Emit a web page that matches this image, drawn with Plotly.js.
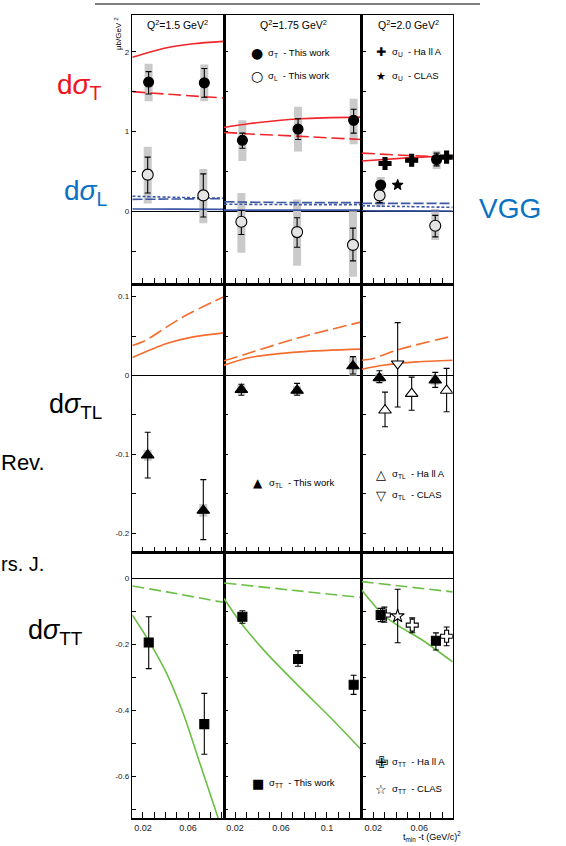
<!DOCTYPE html>
<html>
<head>
<meta charset="utf-8">
<script src="https://cdn.plot.ly/plotly-3.0.1.min.js"></script>
<style>html,body{margin:0;padding:0;background:#fff}</style>
</head>
<body>
<div id="chart" style="width:566px;height:846px"></div>
<script>
// ---------- axes: one column per Q² bin, one row per cross-section ----------
const q2Labels = ['Q<sup>2</sup>=1.5 GeV<sup>2</sup>', 'Q<sup>2</sup>=1.75 GeV<sup>2</sup>', 'Q<sup>2</sup>=2.0 GeV<sup>2</sup>'];
const tRanges = [[0.0105, 0.092], [0.0104, 0.1302], [0.0099, 0.0891]];
const tTickVals = [[0.02, 0.06], [0.02, 0.06, 0.1], [0.02, 0.06]];
const tTickText = [['0.02', '0.06'], ['0.02', '0.06', '0.1'], ['0.02', '0.06']];
const yRanges = [[-0.91, 2.46], [-0.2246, 0.116], [-0.726, 0.0776]];
const yTickVals = [[0, 1, 2], [-0.2, -0.1, 0, 0.1], [-0.6, -0.4, -0.2, 0]];
const yTickText = [['0', '1', '2'], ['-0.2', '-0.1', '0', '0.1'], ['-0.6', '-0.4', '-0.2', '0']];
const yMinorStep = [0.5, 0.05, 0.1];

// ---------- VGG model curves (A = solid, B = dashed) ----------
// dσT
const vggT15A_t = [0.0105, 0.0411, 0.0647, 0.0914], vggT15A = [1.93, 2.05, 2.10, 2.13];
const vggT15B_t = [0.0105, 0.05, 0.0914],           vggT15B = [1.50, 1.46, 1.42];
const vggT175A_t = [0.0104, 0.033, 0.0765, 0.1302], vggT175A = [1.05, 1.10, 1.16, 1.18];
const vggT175B_t = [0.0104, 0.033, 0.0765, 0.1302], vggT175B = [0.99, 0.97, 0.94, 0.90];
const vggT20A_t = [0.0099, 0.05, 0.0891],           vggT20A = [0.63, 0.67, 0.70];
const vggT20B_t = [0.0099, 0.05, 0.0891],           vggT20B = [0.73, 0.70, 0.68];
// dσL (A = solid, B = dashed, C = dotted)
const vggL15_t = [0.0105, 0.05, 0.092];
const vggL15A = [0.03, 0.028, 0.025], vggL15B = [0.15, 0.155, 0.16], vggL15C = [0.19, 0.175, 0.165];
const vggL175_t = [0.0104, 0.07, 0.1302];
const vggL175A = [0.015, 0.015, 0.015], vggL175B = [0.12, 0.11, 0.11], vggL175C = [0.09, 0.085, 0.085];
const vggL20_t = [0.0099, 0.05, 0.0891];
const vggL20A = [0.008, 0.006, 0.005], vggL20B = [0.10, 0.10, 0.10], vggL20C = [0.07, 0.06, 0.05];
// dσTL
const vggTL15A_t = [0.0105, 0.0411, 0.0647, 0.092],  vggTL15A = [0.0228, 0.0406, 0.049, 0.054];
const vggTL15B_t = [0.0105, 0.0203, 0.0558, 0.092],  vggTL15B = [0.038, 0.043, 0.0745, 0.1];
const vggTL175A_t = [0.0104, 0.033, 0.0765, 0.1302], vggTL175A = [0.0131, 0.0228, 0.030, 0.0334];
const vggTL175B_t = [0.0104, 0.033, 0.0765, 0.1302], vggTL175B = [0.0186, 0.0288, 0.0483, 0.068];
const vggTL20A_t = [0.0099, 0.0287, 0.0577, 0.0891], vggTL20A = [0.008, 0.0131, 0.0173, 0.0194];
const vggTL20B_t = [0.0099, 0.02, 0.0432, 0.0891],   vggTL20B = [0.0194, 0.0216, 0.0334, 0.050];
// dσTT
const vggTT15A_t = [0.0105, 0.0247, 0.0411, 0.0558, 0.0707, 0.087, 0.092];
const vggTT15A = [-0.111, -0.187, -0.288, -0.409, -0.561, -0.727, -0.78];
const vggTT15B_t = [0.0105, 0.0411, 0.092],          vggTT15B = [-0.023, -0.041, -0.073];
const vggTT175A_t = [0.0104, 0.0243, 0.0476, 0.0765, 0.1055, 0.1302];
const vggTT175A = [-0.061, -0.131, -0.227, -0.33, -0.43, -0.52];
const vggTT175B_t = [0.0104, 0.07, 0.1302],          vggTT175B = [-0.014, -0.036, -0.058];
const vggTT20A_t = [0.0099, 0.0287, 0.0432, 0.0606, 0.0891];
const vggTT20A = [-0.035, -0.111, -0.147, -0.182, -0.253];
const vggTT20B_t = [0.0099, 0.0891],                 vggTT20B = [-0.010, -0.041];

// ---------- measurements: this work ----------
// Q² = 1.5
const sigT15_t = [0.025, 0.0745], sigT15 = [1.62, 1.61];
const sigT15_up = [0.13, 0.18], sigT15_dn = [0.15, 0.18], sigT15_sysUp = [0.23, 0.23], sigT15_sysDn = [0.24, 0.23];
const sigL15_t = [0.0242, 0.0736], sigL15 = [0.46, 0.20];
const sigL15_up = [0.22, 0.27], sigL15_dn = [0.23, 0.27], sigL15_sysUp = [0.35, 0.33], sigL15_sysDn = [0.36, 0.35];
const sigTL15_t = [0.0242, 0.0736], sigTL15 = [-0.101, -0.171];
const sigTL15_up = [0.029, 0.039], sigTL15_dn = [0.029, 0.037], sigTL15_sys = [0.007, 0.008];
const sigTT15_t = [0.0251, 0.0745], sigTT15 = [-0.194, -0.441];
const sigTT15_up = [0.078, 0.093], sigTT15_dn = [0.079, 0.091], sigTT15_sys = [0.012, 0.012];
// Q² = 1.75
const sigT175_t = [0.0264, 0.0748, 0.1232], sigT175 = [0.89, 1.03, 1.14];
const sigT175_up = [0.09, 0.13, 0.14], sigT175_dn = [0.10, 0.13, 0.16];
const sigT175_sysUp = [0.25, 0.28, 0.27], sigT175_sysDn = [0.26, 0.28, 0.30];
const sigL175_t = [0.0255, 0.074, 0.1226], sigL175 = [-0.13, -0.26, -0.42];
const sigL175_up = [0.14, 0.18, 0.21], sigL175_dn = [0.16, 0.19, 0.20];
const sigL175_sysUp = [0.36, 0.41, 0.42], sigL175_sysDn = [0.39, 0.42, 0.40];
const sigTL175_t = [0.0255, 0.074, 0.1226], sigTL175 = [-0.018, -0.019, 0.012];
const sigTL175_up = [0.007, 0.009, 0.012], sigTL175_dn = [0.007, 0.006, 0.010], sigTL175_sys = [0.006, 0.006, 0.012];
const sigTT175_t = [0.0264, 0.0748, 0.1232], sigTT175 = [-0.116, -0.244, -0.322];
const sigTT175_up = [0.018, 0.025, 0.029], sigTT175_dn = [0.020, 0.022, 0.029], sigTT175_sys = [0.01, 0.01, 0.01];
// Q² = 2.0
const sigT20_t = [0.0264, 0.0751], sigT20 = [0.33, 0.65];
const sigT20_up = [0.03, 0.08], sigT20_dn = [0.03, 0.08], sigT20_sysUp = [0.10, 0.11], sigT20_sysDn = [0.08, 0.12];
const sigL20_t = [0.0255, 0.0739], sigL20 = [0.20, -0.18];
const sigL20_up = [0.06, 0.13], sigL20_dn = [0.09, 0.14], sigL20_sysUp = [0.10, 0.21], sigL20_sysDn = [0.15, 0.18];
const sigTL20_t = [0.0253, 0.0739], sigTL20 = [-0.003, -0.006];
const sigTL20_up = [0.009, 0.010], sigTL20_dn = [0.006, 0.009], sigTL20_sys = [0.006, 0.006];
const sigTT20_t = [0.0264, 0.0745], sigTT20 = [-0.111, -0.189];
const sigTT20_up = [0.02, 0.024], sigTT20_dn = [0.02, 0.028], sigTT20_sys = [0.01, 0.01];

// ---------- other experiments at Q² = 2.0 ----------
const sigU_HallA_t = [0.0302, 0.0534, 0.0838], sigU_HallA = [0.60, 0.64, 0.68];
const sigU_CLAS_t = [0.0412], sigU_CLAS = [0.33], sigU_CLAS_err = [0.02];
const sigTL_HallA_t = [0.0302, 0.0534, 0.0838], sigTL_HallA = [-0.044, -0.023, -0.019];
const sigTL_HallA_up = [0.023, 0.021, 0.028], sigTL_HallA_dn = [0.021, 0.021, 0.027];
const sigTL_CLAS_t = [0.0412], sigTL_CLAS = [0.015], sigTL_CLAS_up = [0.052], sigTL_CLAS_dn = [0.055];
const sigTT_HallA_t = [0.0296, 0.0539, 0.0838], sigTT_HallA = [-0.111, -0.1415, -0.175];
const sigTT_HallA_up = [0.024, 0.022, 0.028], sigTT_HallA_dn = [0.022, 0.023, 0.029];
const sigTT_CLAS_t = [0.0412], sigTT_CLAS = [-0.114], sigTT_CLAS_up = [0.081], sigTT_CLAS_dn = [0.081];

// ---------- page geometry (pixels) ----------
const W = 566, H = 846;
const colPx = [[132.3, 224], [224, 361.7], [361.7, 452.7]];
const rowPx = [[15, 284], [284, 552.7], [552.7, 818.3]];
const px = v => v / W;
const py = v => 1 - v / H;

const RED = '#f0262a', BLUE = '#3d57a6', ORANGE = '#f46c2e', GREEN = '#6cbf45', SYS = '#cacaca';
const FONT = 'Liberation Sans, Arial, sans-serif';

function sfx(r, c) { const k = r * 3 + c + 1; return k === 1 ? '' : String(k); }

const traces = [];

function curve(r, c, t, y, color, dash) {
  const s = sfx(r, c);
  traces.push({
    type: 'scatter', mode: 'lines', x: t, y: y, xaxis: 'x' + s, yaxis: 'y' + s,
    line: {color: color, width: 1.6, dash: dash || 'solid', shape: 'spline', smoothing: 0.8},
    hoverinfo: 'skip', showlegend: false
  });
}

function sysBand(r, c, t, y, up, dn) {
  const s = sfx(r, c);
  traces.push({
    type: 'scatter', mode: 'markers', x: t, y: y, xaxis: 'x' + s, yaxis: 'y' + s,
    marker: {size: 1, color: 'rgba(0,0,0,0)'},
    error_y: {type: 'data', symmetric: false, array: up, arrayminus: dn || up,
              color: SYS, thickness: 8, width: 0},
    hoverinfo: 'skip', showlegend: false
  });
}

function points(r, c, t, y, up, dn, symbol, size, fill) {
  const s = sfx(r, c);
  const tr = {
    type: 'scatter', mode: 'markers', x: t, y: y, xaxis: 'x' + s, yaxis: 'y' + s,
    marker: {symbol: symbol, size: size, color: fill, line: {color: '#000', width: 1.1}},
    hoverinfo: 'skip', showlegend: false
  };
  if (up) {
    tr.error_y = {type: 'data', symmetric: false, array: up, arrayminus: dn || up,
                  color: '#000', thickness: 1.1, width: 3};
  }
  traces.push(tr);
}

// ---- row 1: dσT, dσL ----
sysBand(0, 0, sigT15_t, sigT15, sigT15_sysUp, sigT15_sysDn);
sysBand(0, 0, sigL15_t, sigL15, sigL15_sysUp, sigL15_sysDn);
sysBand(0, 1, sigT175_t, sigT175, sigT175_sysUp, sigT175_sysDn);
sysBand(0, 1, sigL175_t, sigL175, sigL175_sysUp, sigL175_sysDn);
sysBand(0, 2, sigT20_t, sigT20, sigT20_sysUp, sigT20_sysDn);
sysBand(0, 2, sigL20_t, sigL20, sigL20_sysUp, sigL20_sysDn);

curve(0, 0, vggT15A_t, vggT15A, RED);
curve(0, 0, vggT15B_t, vggT15B, RED, '13px,5px');
curve(0, 1, vggT175A_t, vggT175A, RED);
curve(0, 1, vggT175B_t, vggT175B, RED, '13px,5px');
curve(0, 2, vggT20A_t, vggT20A, RED);
curve(0, 2, vggT20B_t, vggT20B, RED, '13px,5px');
curve(0, 0, vggL15_t, vggL15A, BLUE);
curve(0, 0, vggL15_t, vggL15B, BLUE, '10px,3px');
curve(0, 0, vggL15_t, vggL15C, BLUE, '3px,2px');
curve(0, 1, vggL175_t, vggL175A, BLUE);
curve(0, 1, vggL175_t, vggL175B, BLUE, '10px,3px');
curve(0, 1, vggL175_t, vggL175C, BLUE, '3px,2px');
curve(0, 2, vggL20_t, vggL20A, BLUE);
curve(0, 2, vggL20_t, vggL20B, BLUE, '10px,3px');
curve(0, 2, vggL20_t, vggL20C, BLUE, '3px,2px');

points(0, 0, sigT15_t, sigT15, sigT15_up, sigT15_dn, 'circle', 10, '#000');
points(0, 0, sigL15_t, sigL15, sigL15_up, sigL15_dn, 'circle', 11, '#e4e4e4');
points(0, 1, sigT175_t, sigT175, sigT175_up, sigT175_dn, 'circle', 10, '#000');
points(0, 1, sigL175_t, sigL175, sigL175_up, sigL175_dn, 'circle', 11, '#e4e4e4');
points(0, 2, sigL20_t, sigL20, sigL20_up, sigL20_dn, 'circle', 11, '#e4e4e4');
points(0, 2, sigT20_t, sigT20, sigT20_up, sigT20_dn, 'circle', 10, '#000');
points(0, 2, sigU_HallA_t, sigU_HallA, null, null, 'cross', 10, '#000');
points(0, 2, sigU_CLAS_t, sigU_CLAS, sigU_CLAS_err, sigU_CLAS_err, 'star', 8, '#000');

// ---- row 2: dσTL ----
sysBand(1, 0, sigTL15_t, sigTL15, sigTL15_sys);
sysBand(1, 1, sigTL175_t, sigTL175, sigTL175_sys);
sysBand(1, 2, sigTL20_t, sigTL20, sigTL20_sys);
curve(1, 0, vggTL15A_t, vggTL15A, ORANGE);
curve(1, 0, vggTL15B_t, vggTL15B, ORANGE, '14px,5px');
curve(1, 1, vggTL175A_t, vggTL175A, ORANGE);
curve(1, 1, vggTL175B_t, vggTL175B, ORANGE, '14px,5px');
curve(1, 2, vggTL20A_t, vggTL20A, ORANGE);
curve(1, 2, vggTL20B_t, vggTL20B, ORANGE, '14px,5px');
points(1, 0, sigTL15_t, sigTL15, sigTL15_up, sigTL15_dn, 'triangle-up', 11, '#000');
points(1, 1, sigTL175_t, sigTL175, sigTL175_up, sigTL175_dn, 'triangle-up', 11, '#000');
points(1, 2, sigTL20_t, sigTL20, sigTL20_up, sigTL20_dn, 'triangle-up', 11, '#000');
points(1, 2, sigTL_HallA_t, sigTL_HallA, sigTL_HallA_up, sigTL_HallA_dn, 'triangle-up', 11, '#fff');
points(1, 2, sigTL_CLAS_t, sigTL_CLAS, sigTL_CLAS_up, sigTL_CLAS_dn, 'triangle-down', 11, '#fff');

// ---- row 3: dσTT ----
sysBand(2, 0, sigTT15_t, sigTT15, sigTT15_sys);
sysBand(2, 1, sigTT175_t, sigTT175, sigTT175_sys);
sysBand(2, 2, sigTT20_t, sigTT20, sigTT20_sys);
curve(2, 0, vggTT15A_t, vggTT15A, GREEN);
curve(2, 0, vggTT15B_t, vggTT15B, GREEN, '12px,5px');
curve(2, 1, vggTT175A_t, vggTT175A, GREEN);
curve(2, 1, vggTT175B_t, vggTT175B, GREEN, '12px,5px');
curve(2, 2, vggTT20A_t, vggTT20A, GREEN);
curve(2, 2, vggTT20B_t, vggTT20B, GREEN, '12px,5px');
points(2, 0, sigTT15_t, sigTT15, sigTT15_up, sigTT15_dn, 'square', 9, '#000');
points(2, 1, sigTT175_t, sigTT175, sigTT175_up, sigTT175_dn, 'square', 9, '#000');
points(2, 2, sigTT_HallA_t, sigTT_HallA, sigTT_HallA_up, sigTT_HallA_dn, 'cross', 10, '#fff');
points(2, 2, sigTT_CLAS_t, sigTT_CLAS, sigTT_CLAS_up, sigTT_CLAS_dn, 'star', 10, '#fff');
points(2, 2, sigTT20_t, sigTT20, sigTT20_up, sigTT20_dn, 'square', 9, '#000');

// ---------- layout ----------
const layout = {
  width: W, height: H,
  margin: {l: 0, r: 0, t: 0, b: 0},
  paper_bgcolor: '#fff', plot_bgcolor: '#fff',
  showlegend: false,
  font: {family: FONT, color: '#000', size: 9},
  annotations: [], shapes: []
};

for (let r = 0; r < 3; r++) {
  for (let c = 0; c < 3; c++) {
    const s = sfx(r, c);
    layout['xaxis' + s] = {
      domain: [px(colPx[c][0]), px(colPx[c][1])], range: tRanges[c], anchor: 'y' + s,
      showline: true, mirror: true, linecolor: '#000', linewidth: 1.5,
      showgrid: false, zeroline: false,
      tickmode: 'array', tickvals: tTickVals[c], ticktext: tTickText[c],
      ticks: 'inside', ticklen: 6, tickwidth: 1, tickcolor: '#000',
      minor: {tickmode: 'linear', tick0: 0, dtick: 0.01, ticks: 'inside', ticklen: 6, tickwidth: 1, tickcolor: '#000'},
      showticklabels: r === 2, tickfont: {family: FONT, size: 9, color: '#222'}
    };
    layout['yaxis' + s] = {
      domain: [py(rowPx[r][1]), py(rowPx[r][0])], range: yRanges[r], anchor: 'x' + s,
      showline: true, mirror: true, linecolor: '#000', linewidth: 1.5,
      showgrid: false, zeroline: true, zerolinecolor: '#000', zerolinewidth: 1,
      tickmode: 'array', tickvals: yTickVals[r], ticktext: yTickText[r],
      ticks: 'inside', ticklen: 4, tickwidth: 1, tickcolor: '#000',
      minor: {tickmode: 'linear', tick0: 0, dtick: yMinorStep[r], ticks: 'inside', ticklen: 4, tickwidth: 1, tickcolor: '#000'},
      showticklabels: c === 0, tickfont: {family: FONT, size: 8, color: '#222'}
    };
  }
}

function note(x, y, text, size, color, extra) {
  layout.annotations.push(Object.assign({
    xref: 'paper', yref: 'paper', x: px(x), y: py(y), text: text, showarrow: false,
    xanchor: 'center', yanchor: 'middle',
    font: {family: FONT, size: size, color: color || '#000'}
  }, extra || {}));
}

// Q² bin titles
const titleCentres = [177, 293, 408];
q2Labels.forEach((t, i) => note(titleCentres[i], 24, t, 10.5));

// in-panel keys
const keyFont = 'DejaVu Sans, sans-serif';
function key(x, y, glyph, gsize, text) {
  layout.annotations.push({xref: 'paper', yref: 'paper', x: px(x), y: py(y), text: glyph,
    showarrow: false, xanchor: 'center', yanchor: 'middle', font: {family: keyFont, size: gsize, color: '#000'}});
  note(x + 9, y, text, 9.5, '#000', {xanchor: 'left'});
}
key(257, 53, '●', 14, 'σ<sub>T</sub>  - This work');
key(257, 76, '○', 14, 'σ<sub>L</sub>  - This work');
key(381, 52, '✚', 12, 'σ<sub>U</sub>  - Ha ll A');
key(381, 76, '★', 11, 'σ<sub>U</sub>  - CLAS');
key(258, 483, '▲', 12, 'σ<sub>TL</sub>  - This work');
key(381, 474, '△', 13, 'σ<sub>TL</sub>  - Ha ll A');
key(381, 495, '▽', 13, 'σ<sub>TL</sub>  - CLAS');
key(258, 783, '■', 13, 'σ<sub>TT</sub>  - This work');
key(381, 762, '✙', 16, 'σ<sub>TT</sub>  - Ha ll A');
key(381, 789, '☆', 13, 'σ<sub>TT</sub>  - CLAS');

// axis titles
note(118, 34, 'μb/GeV <sup>2</sup>', 8, '#000', {textangle: -90});
note(432, 836, 't<sub>min</sub> -t (GeV/c)<sup>2</sup>', 9);

// side labels
note(79, 86, 'd<i>σ</i><sub>T</sub>', 28, '#f0141e');
note(85, 193, 'd<i>σ</i><sub>L</sub>', 28, '#0a72c4');
note(510, 208, 'VGG', 28, '#0a72c4');
note(75, 406, 'd<i>σ</i><sub>TL</sub>', 27, '#000');
note(55, 632, 'd<i>σ</i><sub>TT</sub>', 27, '#000');
note(47, 463, 'Rev.', 22, '#000', {xanchor: 'right'});
note(46, 564, 'rs. J.', 20, '#000', {xanchor: 'right'});

// rule across the top
layout.shapes.push({type: 'line', xref: 'paper', yref: 'paper',
  x0: px(95), x1: px(480), y0: py(4), y1: py(4), line: {color: '#000', width: 1}});

Plotly.newPlot('chart', traces, layout, {staticPlot: true, displayModeBar: false});
</script>
</body>
</html>
